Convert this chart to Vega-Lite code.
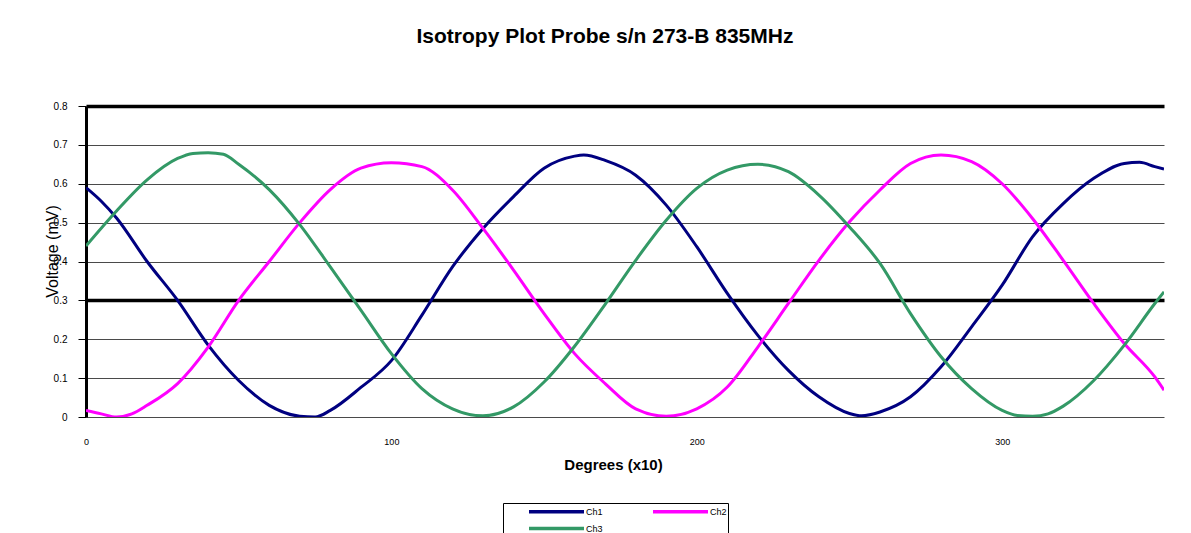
{
  "$schema": "https://vega.github.io/schema/vega-lite/v6.json",
  "width": 1078,
  "height": 311,
  "autosize": {"type": "none"},
  "padding": {"left": 86, "top": 106, "right": 27, "bottom": 116},
  "background": "white",
  "config": {
    "font": "Liberation Sans",
    "view": {"stroke": null},
    "axis": {"labelFont": "Liberation Sans", "titleFont": "Liberation Sans"},
    "legend": {"labelFont": "Liberation Sans"}
  },
  "title": {
    "text": "Isotropy Plot Probe s/n 273-B 835MHz",
    "fontSize": 21,
    "fontWeight": "bold",
    "color": "#000000",
    "offset": 54,
    "dx": -20
  },
  "data": {
    "values": [
      {"x": 0, "v": 0.59, "ch": "Ch1"},
      {"x": 5, "v": 0.555, "ch": "Ch1"},
      {"x": 10, "v": 0.512, "ch": "Ch1"},
      {"x": 20, "v": 0.40, "ch": "Ch1"},
      {"x": 30, "v": 0.30, "ch": "Ch1"},
      {"x": 40, "v": 0.185, "ch": "Ch1"},
      {"x": 50, "v": 0.094, "ch": "Ch1"},
      {"x": 60, "v": 0.03, "ch": "Ch1"},
      {"x": 70, "v": 0.002, "ch": "Ch1"},
      {"x": 75, "v": 0.0, "ch": "Ch1"},
      {"x": 80, "v": 0.017, "ch": "Ch1"},
      {"x": 90, "v": 0.076, "ch": "Ch1"},
      {"x": 100, "v": 0.145, "ch": "Ch1"},
      {"x": 110, "v": 0.262, "ch": "Ch1"},
      {"x": 120, "v": 0.386, "ch": "Ch1"},
      {"x": 130, "v": 0.485, "ch": "Ch1"},
      {"x": 140, "v": 0.567, "ch": "Ch1"},
      {"x": 150, "v": 0.64, "ch": "Ch1"},
      {"x": 160, "v": 0.671, "ch": "Ch1"},
      {"x": 163, "v": 0.674, "ch": "Ch1"},
      {"x": 170, "v": 0.66, "ch": "Ch1"},
      {"x": 180, "v": 0.622, "ch": "Ch1"},
      {"x": 190, "v": 0.545, "ch": "Ch1"},
      {"x": 200, "v": 0.438, "ch": "Ch1"},
      {"x": 210, "v": 0.318, "ch": "Ch1"},
      {"x": 220, "v": 0.21, "ch": "Ch1"},
      {"x": 230, "v": 0.12, "ch": "Ch1"},
      {"x": 240, "v": 0.052, "ch": "Ch1"},
      {"x": 250, "v": 0.009, "ch": "Ch1"},
      {"x": 254, "v": 0.003, "ch": "Ch1"},
      {"x": 260, "v": 0.013, "ch": "Ch1"},
      {"x": 270, "v": 0.052, "ch": "Ch1"},
      {"x": 280, "v": 0.129, "ch": "Ch1"},
      {"x": 290, "v": 0.232, "ch": "Ch1"},
      {"x": 300, "v": 0.339, "ch": "Ch1"},
      {"x": 310, "v": 0.464, "ch": "Ch1"},
      {"x": 320, "v": 0.549, "ch": "Ch1"},
      {"x": 330, "v": 0.614, "ch": "Ch1"},
      {"x": 340, "v": 0.652, "ch": "Ch1"},
      {"x": 345, "v": 0.655, "ch": "Ch1"},
      {"x": 350, "v": 0.644, "ch": "Ch1"},
      {"x": 353, "v": 0.638, "ch": "Ch1"},
      {"x": 0, "v": 0.017, "ch": "Ch2"},
      {"x": 5, "v": 0.008, "ch": "Ch2"},
      {"x": 10, "v": 0.0, "ch": "Ch2"},
      {"x": 15, "v": 0.008, "ch": "Ch2"},
      {"x": 20, "v": 0.03, "ch": "Ch2"},
      {"x": 30, "v": 0.086, "ch": "Ch2"},
      {"x": 40, "v": 0.18, "ch": "Ch2"},
      {"x": 50, "v": 0.30, "ch": "Ch2"},
      {"x": 60, "v": 0.40, "ch": "Ch2"},
      {"x": 70, "v": 0.50, "ch": "Ch2"},
      {"x": 80, "v": 0.585, "ch": "Ch2"},
      {"x": 90, "v": 0.64, "ch": "Ch2"},
      {"x": 100, "v": 0.654, "ch": "Ch2"},
      {"x": 110, "v": 0.644, "ch": "Ch2"},
      {"x": 120, "v": 0.584, "ch": "Ch2"},
      {"x": 130, "v": 0.485, "ch": "Ch2"},
      {"x": 140, "v": 0.378, "ch": "Ch2"},
      {"x": 150, "v": 0.266, "ch": "Ch2"},
      {"x": 160, "v": 0.163, "ch": "Ch2"},
      {"x": 170, "v": 0.086, "ch": "Ch2"},
      {"x": 180, "v": 0.021, "ch": "Ch2"},
      {"x": 190, "v": 0.002, "ch": "Ch2"},
      {"x": 200, "v": 0.021, "ch": "Ch2"},
      {"x": 210, "v": 0.077, "ch": "Ch2"},
      {"x": 220, "v": 0.18, "ch": "Ch2"},
      {"x": 230, "v": 0.292, "ch": "Ch2"},
      {"x": 240, "v": 0.403, "ch": "Ch2"},
      {"x": 250, "v": 0.502, "ch": "Ch2"},
      {"x": 260, "v": 0.584, "ch": "Ch2"},
      {"x": 270, "v": 0.652, "ch": "Ch2"},
      {"x": 280, "v": 0.674, "ch": "Ch2"},
      {"x": 290, "v": 0.657, "ch": "Ch2"},
      {"x": 300, "v": 0.60, "ch": "Ch2"},
      {"x": 310, "v": 0.51, "ch": "Ch2"},
      {"x": 320, "v": 0.403, "ch": "Ch2"},
      {"x": 330, "v": 0.292, "ch": "Ch2"},
      {"x": 340, "v": 0.189, "ch": "Ch2"},
      {"x": 350, "v": 0.103, "ch": "Ch2"},
      {"x": 353, "v": 0.069, "ch": "Ch2"},
      {"x": 0, "v": 0.44, "ch": "Ch3"},
      {"x": 10, "v": 0.53, "ch": "Ch3"},
      {"x": 20, "v": 0.61, "ch": "Ch3"},
      {"x": 30, "v": 0.665, "ch": "Ch3"},
      {"x": 35, "v": 0.678, "ch": "Ch3"},
      {"x": 40, "v": 0.68, "ch": "Ch3"},
      {"x": 45, "v": 0.676, "ch": "Ch3"},
      {"x": 50, "v": 0.65, "ch": "Ch3"},
      {"x": 60, "v": 0.585, "ch": "Ch3"},
      {"x": 70, "v": 0.495, "ch": "Ch3"},
      {"x": 80, "v": 0.386, "ch": "Ch3"},
      {"x": 90, "v": 0.275, "ch": "Ch3"},
      {"x": 100, "v": 0.163, "ch": "Ch3"},
      {"x": 110, "v": 0.073, "ch": "Ch3"},
      {"x": 120, "v": 0.021, "ch": "Ch3"},
      {"x": 130, "v": 0.003, "ch": "Ch3"},
      {"x": 140, "v": 0.026, "ch": "Ch3"},
      {"x": 150, "v": 0.09, "ch": "Ch3"},
      {"x": 160, "v": 0.182, "ch": "Ch3"},
      {"x": 170, "v": 0.29, "ch": "Ch3"},
      {"x": 180, "v": 0.403, "ch": "Ch3"},
      {"x": 190, "v": 0.506, "ch": "Ch3"},
      {"x": 200, "v": 0.588, "ch": "Ch3"},
      {"x": 210, "v": 0.635, "ch": "Ch3"},
      {"x": 220, "v": 0.65, "ch": "Ch3"},
      {"x": 230, "v": 0.631, "ch": "Ch3"},
      {"x": 240, "v": 0.571, "ch": "Ch3"},
      {"x": 250, "v": 0.489, "ch": "Ch3"},
      {"x": 260, "v": 0.395, "ch": "Ch3"},
      {"x": 270, "v": 0.266, "ch": "Ch3"},
      {"x": 280, "v": 0.155, "ch": "Ch3"},
      {"x": 290, "v": 0.073, "ch": "Ch3"},
      {"x": 300, "v": 0.017, "ch": "Ch3"},
      {"x": 305, "v": 0.004, "ch": "Ch3"},
      {"x": 310, "v": 0.002, "ch": "Ch3"},
      {"x": 315, "v": 0.008, "ch": "Ch3"},
      {"x": 320, "v": 0.028, "ch": "Ch3"},
      {"x": 330, "v": 0.094, "ch": "Ch3"},
      {"x": 340, "v": 0.185, "ch": "Ch3"},
      {"x": 350, "v": 0.292, "ch": "Ch3"},
      {"x": 353, "v": 0.322, "ch": "Ch3"}
    ]
  },
  "mark": {"type": "line", "strokeWidth": 3, "interpolate": "monotone", "clip": true},
  "encoding": {
    "x": {
      "field": "x",
      "type": "quantitative",
      "scale": {"domain": [0, 353], "nice": false, "zero": false},
      "axis": {
        "title": "Degrees (x10)",
        "values": [0, 100, 200, 300],
        "grid": false,
        "domain": false,
        "ticks": false,
        "labelFontSize": 9,
        "labelColor": "#000000",
        "labelPadding": 20,
        "labelFlush": false,
        "titleFontSize": 15,
        "titleFontWeight": "bold",
        "titleColor": "#000000",
        "titlePadding": 11,
        "titleX": 527
      }
    },
    "y": {
      "field": "v",
      "type": "quantitative",
      "scale": {"domain": [0, 0.8], "nice": false},
      "axis": {
        "title": "Voltage (mV)",
        "values": [0, 0.1, 0.2, 0.3, 0.4, 0.5, 0.6, 0.7, 0.8],
        "labelExpr": "datum.value == 0 ? '0' : format(datum.value, '.1f')",
        "labelFontSize": 10,
        "labelColor": "#000000",
        "labelPadding": 11,
        "tickSize": 8,
        "tickColor": "#000000",
        "tickWidth": 1,
        "domainColor": "#000000",
        "domainWidth": 3,
        "grid": true,
        "gridColor": {"condition": {"test": "abs(datum.value - 0.3) < 0.001 || abs(datum.value - 0.8) < 0.001", "value": "#000000"}, "value": "#4a4a4a"},
        "gridWidth": {"condition": {"test": "abs(datum.value - 0.3) < 0.001 || abs(datum.value - 0.8) < 0.001", "value": 3.5}, "value": 1},
        "gridOpacity": 1,
        "titleFontSize": 16,
        "titleFontWeight": "normal",
        "titleColor": "#000000",
        "titleX": -26,
        "titleY": 145
      }
    },
    "color": {
      "field": "ch",
      "type": "nominal",
      "scale": {"domain": ["Ch1", "Ch2", "Ch3"], "range": ["#000080", "#FF00FF", "#339966"]},
      "legend": {
        "title": null,
        "orient": "none",
        "legendX": 417,
        "legendY": 397,
        "direction": "horizontal",
        "columns": 2,
        "columnPadding": 25,
        "rowPadding": 2,
        "symbolType": "M-1,0H9",
        "symbolSize": 121,
        "symbolStrokeWidth": 3.5,
        "symbolFillColor": "transparent",
        "symbolOffset": 23,
        "labelFontSize": 9,
        "labelColor": "#000000",
        "labelOffset": 44,
        "strokeColor": "#000000",
        "fillColor": "#ffffff",
        "padding": 1
      }
    }
  }
}
